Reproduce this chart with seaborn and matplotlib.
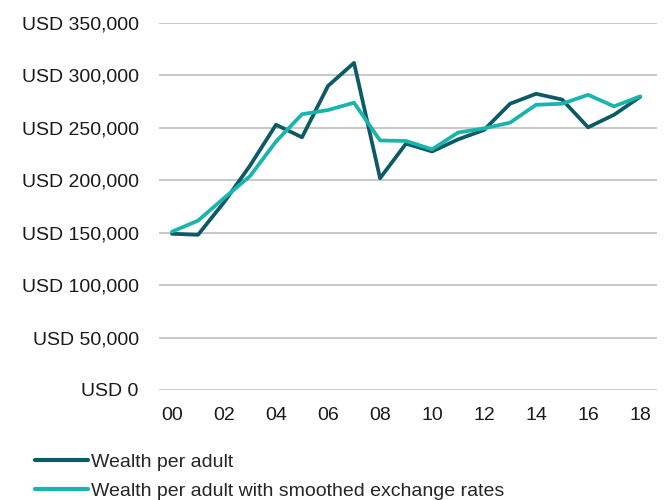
import matplotlib
matplotlib.use("Agg")
import matplotlib.pyplot as plt
import seaborn as sns
import pandas as pd

years = list(range(2000, 2019))
tick_labels = ["00", "02", "04", "06", "08", "10", "12", "14", "16", "18"]
wealth_per_adult = [149000, 148000, 179000, 214000, 253000, 241000, 290000, 312000, 202000,
                    235000, 227500, 239000, 248000, 273000, 282500, 277000, 250500, 262500, 279500]
wealth_smoothed = [151000, 161500, 183000, 204000, 237000, 263000, 267000, 274000, 238000,
                   237500, 229500, 245500, 249500, 255000, 272000, 273000, 281500, 270500, 280000]
series_names = ["Wealth per adult", "Wealth per adult with smoothed exchange rates"]
colors = ["#0b5a66", "#19b5ac"]

df = pd.DataFrame({
    "year": years * 2,
    "value": wealth_per_adult + wealth_smoothed,
    "series": [series_names[0]] * len(years) + [series_names[1]] * len(years),
})

sns.set_theme(style="white")
plt.rcParams["font.family"] = ["Liberation Sans", "DejaVu Sans"]

fig = plt.figure(figsize=(6.67, 5.0), dpi=100)
ax = fig.add_axes([159 / 667, 1 - 390 / 500, (657 - 159) / 667, (390 - 23) / 500])

sns.lineplot(data=df, x="year", y="value", hue="series", palette=colors,
             linewidth=2.7, ax=ax, legend=False, zorder=3)

ax.set_ylim(0, 350000)
ax.set_xlim(1999.5, 2018.65)
yt = list(range(0, 350001, 50000))
ax.set_yticks(yt)
ax.set_yticklabels([f"USD {v:,}" for v in yt], fontsize=14, color="#1a1a1a")
ax.set_xticks(list(range(2000, 2019, 2)))
ax.set_xticklabels(tick_labels, fontsize=14, color="#1a1a1a")
ax.tick_params(axis="y", length=0, pad=14.5)
ax.tick_params(axis="x", length=0, pad=12)
ax.grid(axis="y", color="#c4c4c4", linewidth=1.3)
ax.grid(axis="x", visible=False)
for s in ax.spines.values():
    s.set_visible(False)
ax.set_xlabel("")
ax.set_ylabel("")

# legend below the plot
handles = [plt.Line2D([], [], color=c, linewidth=3) for c in colors]
fig.legend(handles, series_names, loc="upper left", bbox_to_anchor=(35 / 667, 1 - 453 / 500),
           frameon=False, fontsize=14, handlelength=2.7, handletextpad=0.2,
           labelspacing=0.6, borderaxespad=0, borderpad=0)

fig.savefig("out.png", dpi=100)
